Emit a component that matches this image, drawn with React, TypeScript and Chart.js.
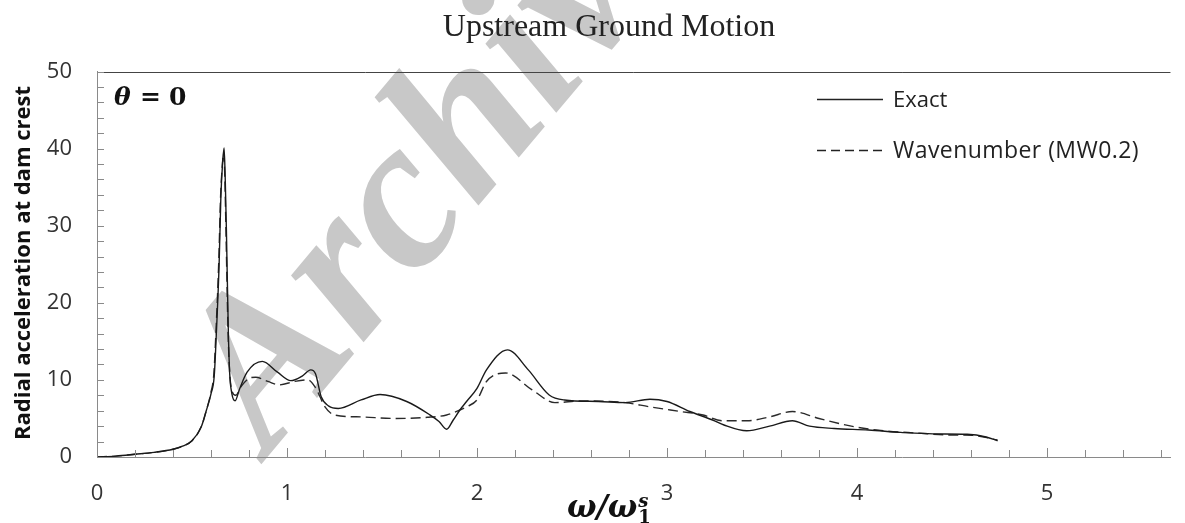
import React, { useEffect, useRef } from "react";
import { Chart, registerables } from "chart.js";

Chart.register(...registerables);

// ---- data ----
const exactX = [0, 0.1, 0.2, 0.3, 0.4, 0.45, 0.5, 0.55, 0.575, 0.6, 0.617, 0.629, 0.643, 0.652, 0.662, 0.669, 0.675, 0.681, 0.691, 0.698, 0.71, 0.727, 0.75, 0.79, 0.87, 0.95, 1.02, 1.08, 1.125, 1.15, 1.18, 1.22, 1.27, 1.39, 1.49, 1.63, 1.75, 1.8, 1.84, 1.875, 1.91, 1.945, 2.0, 2.05, 2.16, 2.27, 2.38, 2.46, 2.64, 2.78, 2.91, 3.0, 3.12, 3.24, 3.3, 3.42, 3.54, 3.66, 3.75, 3.88, 4.06, 4.23, 4.4, 4.58, 4.68, 4.74];
const exactY = [0, 0.12, 0.35, 0.6, 1.0, 1.4, 2.1, 4.0, 6.0, 8.2, 10.5, 16.5, 25.2, 33.8, 38.5, 40.1, 36, 29.5, 16.5, 11, 8.2, 7.3, 8.8, 11.0, 12.4, 11.0, 9.9, 10.5, 11.3, 10.8, 7.8, 6.6, 6.3, 7.4, 8.1, 7.2, 5.5, 4.6, 3.6, 4.8, 6.1, 7.2, 8.9, 11.3, 13.9, 11.3, 8.05, 7.4, 7.2, 7.05, 7.5, 7.2, 5.9, 4.8, 4.15, 3.4, 4.0, 4.7, 4.0, 3.7, 3.5, 3.2, 3.0, 2.95, 2.6, 2.1];

const waveX = [0, 0.1, 0.2, 0.3, 0.4, 0.45, 0.5, 0.55, 0.575, 0.6, 0.615, 0.627, 0.641, 0.65, 0.66, 0.667, 0.673, 0.679, 0.689, 0.697, 0.71, 0.73, 0.76, 0.8, 0.835, 0.9, 0.96, 1.04, 1.11, 1.15, 1.2, 1.25, 1.39, 1.56, 1.74, 1.84, 1.91, 1.945, 2.0, 2.05, 2.15, 2.29, 2.41, 2.55, 2.78, 2.91, 3.07, 3.19, 3.29, 3.42, 3.54, 3.66, 3.8, 3.97, 4.14, 4.32, 4.49, 4.61, 4.74];
const waveY = [0, 0.12, 0.35, 0.6, 1.0, 1.4, 2.1, 4.0, 6.0, 8.4, 10.8, 16.8, 25.5, 33.5, 38.0, 39.5, 36, 29, 17, 11.5, 8.6, 8.0, 9.2, 10.2, 10.35, 9.8, 9.35, 9.8, 10.0, 9.0, 6.5, 5.45, 5.2, 5.0, 5.15, 5.45, 6.1, 6.5, 7.4, 9.8, 10.9, 8.7, 7.05, 7.27, 7.05, 6.5, 5.9, 5.45, 4.7, 4.7, 5.2, 5.9, 5.0, 4.0, 3.4, 3.1, 2.85, 2.8, 2.2];

const seriesNames = ["Exact", "Wavenumber (MW0.2)"];
const xTickLabels = ["0", "1", "2", "3", "4", "5"];
const yTickLabels = ["0", "10", "20", "30", "40", "50"];
const chartTitle = "Upstream Ground Motion";
const yAxisTitle = "Radial acceleration at dam crest";
const caseLabel = ["θ", "=", "0"];
const watermark = "Archive";

const toPoints = (xs: number[], ys: number[]) => xs.map((x, i) => ({ x, y: ys[i] }));

const decorPlugin = {
  id: "decor",
  beforeDraw(chart: any) {
    const ctx = chart.ctx;
    ctx.save();
    ctx.fillStyle = "#ffffff";
    ctx.fillRect(0, 0, chart.width, chart.height);
    // watermark
    ctx.translate(226, 420);
    ctx.rotate((-50 * Math.PI) / 180);
    ctx.font = 'italic bold 215px "Liberation Serif"';
    ctx.fillStyle = "#c8c8c8";
    ctx.textBaseline = "middle";
    ctx.textAlign = "left";
    ctx.fillText(watermark, 0, 0);
    ctx.restore();
  },
  afterDraw(chart: any) {
    const ctx = chart.ctx;
    const { left, right, top, bottom } = chart.chartArea;
    const xs = chart.scales.x;
    const ys = chart.scales.y;
    ctx.save();
    // top frame line
    ctx.strokeStyle = "#444";
    ctx.lineWidth = 1;
    ctx.beginPath();
    ctx.moveTo(left, Math.round(top) + 0.5);
    ctx.lineTo(right, Math.round(top) + 0.5);
    ctx.stroke();
    // inward tick marks
    ctx.strokeStyle = "#8a8a8a";
    ctx.beginPath();
    xs.ticks.forEach((t: any) => {
      const px = Math.round(xs.getPixelForValue(t.value)) + 0.5;
      const major = Math.abs(t.value - Math.round(t.value)) < 1e-6;
      ctx.moveTo(px, bottom);
      ctx.lineTo(px, bottom - (major ? 9 : 7));
    });
    ys.ticks.forEach((t: any) => {
      const py = Math.round(ys.getPixelForValue(t.value)) + 0.5;
      ctx.moveTo(left, py);
      ctx.lineTo(left + 7, py);
    });
    ctx.stroke();

    // title
    ctx.fillStyle = "#222";
    ctx.font = '32px "Liberation Serif"';
    ctx.textAlign = "center";
    ctx.textBaseline = "alphabetic";
    ctx.fillText(chartTitle, 609, 36);

    // case label
    ctx.textAlign = "left";
    ctx.fillStyle = "#111";
    ctx.font = 'italic bold 25px "DejaVu Serif"';
    ctx.fillText(caseLabel[0], 114, 105);
    ctx.font = 'bold 25px "DejaVu Serif"';
    ctx.fillText(caseLabel[1], 140, 105);
    ctx.fillText(caseLabel[2], 169, 105);

    // legend
    ctx.strokeStyle = "#222";
    ctx.lineWidth = 1.4;
    ctx.beginPath();
    ctx.moveTo(817, 99.5);
    ctx.lineTo(883, 99.5);
    ctx.stroke();
    ctx.setLineDash([9, 5]);
    ctx.beginPath();
    ctx.moveTo(817, 150.5);
    ctx.lineTo(883, 150.5);
    ctx.stroke();
    ctx.setLineDash([]);
    ctx.fillStyle = "#222";
    ctx.font = '22px "Open Sans"';
    ctx.fillText(seriesNames[0], 893, 107);
    ctx.font = '23px "Open Sans"';
    const w2 = ctx.measureText(seriesNames[1]).width;
    const sp = Math.max(0, (246 - w2) / seriesNames[1].length);
    (ctx as any).letterSpacing = sp.toFixed(2) + "px";
    ctx.fillText(seriesNames[1], 893, 158);
    (ctx as any).letterSpacing = "0px";

    // x axis title  ω/ω₁ˢ
    ctx.fillStyle = "#111";
    ctx.font = 'italic bold 31px "DejaVu Serif"';
    const main = "ω/ω";
    const mw = ctx.measureText(main).width;
    const x0 = 567;
    ctx.fillText(main, x0, 517);
    ctx.font = 'italic bold 18px "DejaVu Serif"';
    ctx.fillText("s", x0 + mw + 1, 507);
    ctx.font = 'bold 18px "DejaVu Serif"';
    ctx.fillText("1", x0 + mw + 1, 523);

    // y axis title
    ctx.translate(24, 263);
    ctx.rotate(-Math.PI / 2);
    ctx.font = 'bold 22px "Open Sans"';
    ctx.textAlign = "center";
    ctx.textBaseline = "middle";
    ctx.fillStyle = "#111";
    ctx.fillText(yAxisTitle, 0, 0);
    ctx.restore();
  },
};

export default function App() {
  const ref = useRef<HTMLCanvasElement | null>(null);
  useEffect(() => {
    if (!ref.current) return;
    const tickFont = { family: '"Open Sans"', size: 22 };
    const chart = new Chart(ref.current, {
      type: "line",
      data: {
        datasets: [
          {
            label: seriesNames[0],
            data: toPoints(exactX, exactY),
            borderColor: "#1a1a1a",
            borderWidth: 1.4,
            pointRadius: 0,
            fill: false,
            cubicInterpolationMode: "monotone",
          },
          {
            label: seriesNames[1],
            data: toPoints(waveX, waveY),
            borderColor: "#2a2a2a",
            borderWidth: 1.4,
            borderDash: [10, 5],
            pointRadius: 0,
            fill: false,
            cubicInterpolationMode: "monotone",
          },
        ],
      },
      options: {
        responsive: false,
        animation: false,
        events: [],
        layout: { padding: { top: 71.5, right: 2, left: 0, bottom: 0 } },
        plugins: {
          legend: { display: false },
          title: { display: false },
          tooltip: { enabled: false },
        },
        scales: {
          x: {
            type: "linear",
            min: 0,
            max: 5.65,
            afterFit: (s: any) => {
              s.height = 66;
            },
            grid: { display: false, drawTicks: false },
            border: { display: true, color: "#8a8a8a", width: 1 },
            ticks: {
              stepSize: 0.2,
              autoSkip: false,
              includeBounds: false,
              maxRotation: 0,
              padding: 24,
              color: "#333",
              font: tickFont,
              callback: (v: any) => {
                const r = Math.round(v);
                return Math.abs(v - r) < 1e-6 && r >= 0 && r < xTickLabels.length ? xTickLabels[r] : "";
              },
            },
          },
          y: {
            min: 0,
            max: 50,
            afterFit: (s: any) => {
              s.width = 97;
            },
            grid: { display: false, drawTicks: false },
            border: { display: true, color: "#8a8a8a", width: 1 },
            ticks: {
              stepSize: 2,
              autoSkip: false,
              padding: 25,
              color: "#333",
              font: tickFont,
              callback: (v: any) => {
                const r = Math.round(v);
                return r % 10 === 0 && r / 10 < yTickLabels.length ? yTickLabels[r / 10] : "";
              },
            },
          },
        },
      },
      plugins: [decorPlugin],
    } as any);
    return () => chart.destroy();
  }, []);
  return (
    <div style={{ position: "fixed", left: 0, top: 0, width: 1185, height: 523 }}>
      <canvas ref={ref} width={1185} height={523} style={{ display: "block" }} />
    </div>
  );
}
